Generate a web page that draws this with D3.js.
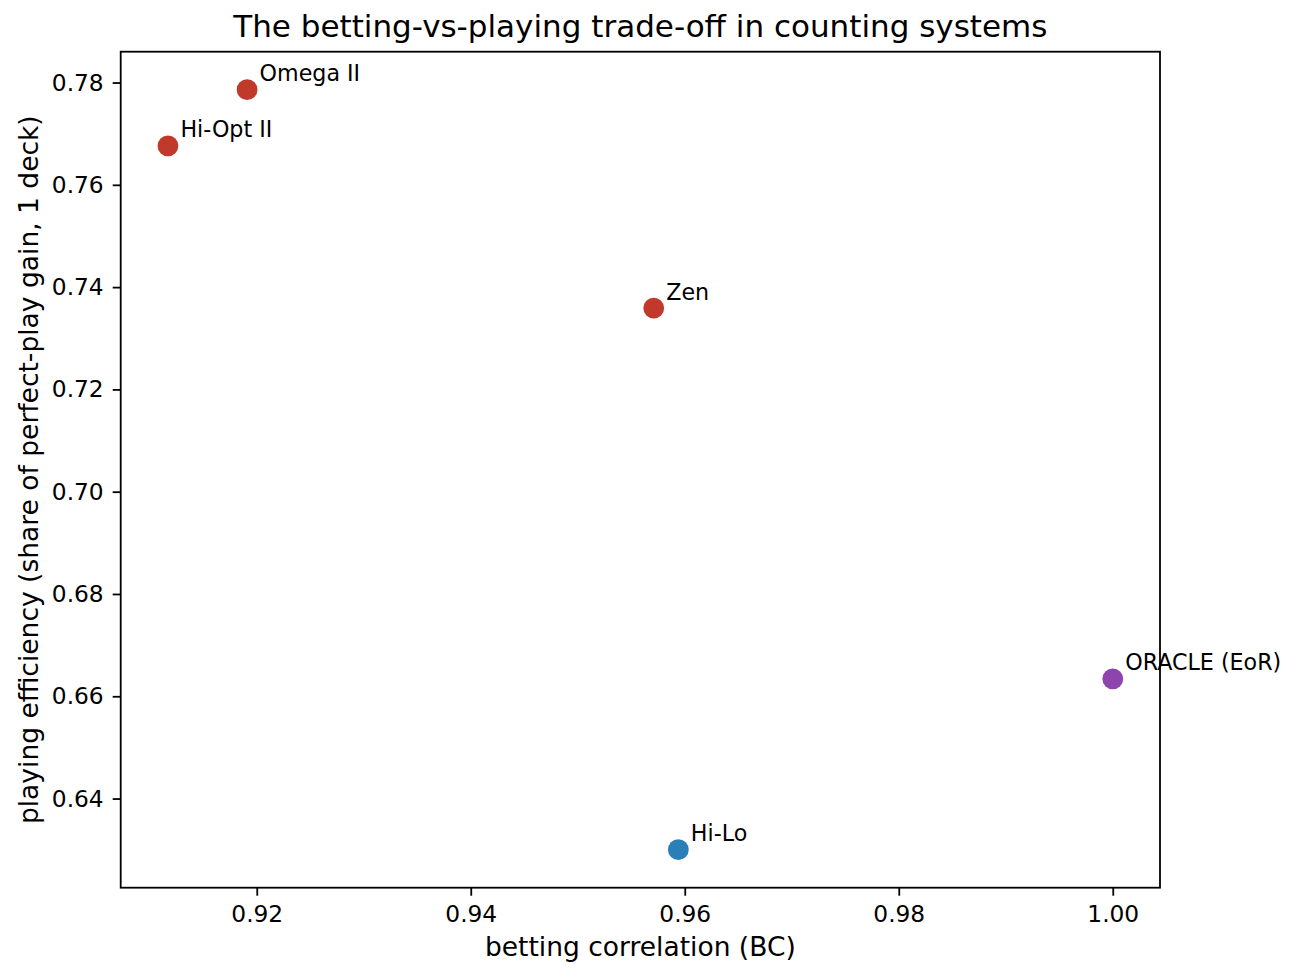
<!DOCTYPE html>
<html lang="en">
<head>
<meta charset="UTF-8">
<title>Betting vs playing trade-off</title>
<script src="https://d3js.org/d3.v7.min.js"></script>
<style>
body { margin: 0; background: #fff; }
svg text { font-family: "DejaVu Sans", sans-serif; fill: #000; }
.axis path, .axis line { stroke: #000; stroke-width: 1.8px; }
.axis text { font-size: 23.3px; }
</style>
</head>
<body>
<svg id="chart" width="1298" height="978"></svg>
<script>
// counting systems: betting correlation vs playing efficiency
var systems = ["Hi-Lo", "Hi-Opt II", "Omega II", "Zen", "ORACLE (EoR)"];
var bc = [0.9594, 0.9117, 0.9191, 0.9571, 1.0000];
var pe = [0.6300, 0.7676, 0.7786, 0.7359, 0.6634];
var kind = ["level 1", "multi-level", "multi-level", "multi-level", "oracle"];

var xTicks = [0.92, 0.94, 0.96, 0.98, 1.00];
var yTicks = [0.64, 0.66, 0.68, 0.70, 0.72, 0.74, 0.76, 0.78];

var box = { left: 120.7, right: 1160, top: 51.7, bottom: 887.7 };

// matplotlib-like 5% margins around the data
function padded(vals) {
  var e = d3.extent(vals), m = (e[1] - e[0]) * 0.05;
  return [e[0] - m, e[1] + m];
}

var x = d3.scaleLinear().domain(padded(bc)).range([box.left, box.right]);
var y = d3.scaleLinear().domain(padded(pe)).range([box.bottom, box.top]);
var color = d3.scaleOrdinal()
  .domain(["level 1", "multi-level", "oracle"])
  .range(["#2a7fb8", "#c0392b", "#8e44ad"]);

var svg = d3.select("#chart");

var pts = systems.map(function(s, i) {
  return { name: s, bc: bc[i], pe: pe[i], kind: kind[i] };
});

svg.selectAll("circle.pt")
  .data(pts)
  .enter().append("circle")
  .attr("class", "pt")
  .attr("cx", function(d) { return x(d.bc); })
  .attr("cy", function(d) { return y(d.pe); })
  .attr("r", 10.4)
  .attr("fill", function(d) { return color(d.kind); });

svg.selectAll("text.lbl")
  .data(pts)
  .enter().append("text")
  .attr("class", "lbl")
  .attr("x", function(d) { return x(d.bc) + 12.5; })
  .attr("y", function(d) { return y(d.pe) - 8.5; })
  .style("font-size", "22.2px")
  .text(function(d) { return d.name; });

// axes
svg.append("g")
  .attr("class", "axis")
  .attr("transform", "translate(0," + box.bottom + ")")
  .call(d3.axisBottom(x).tickValues(xTicks).tickFormat(d3.format(".2f"))
    .tickSize(8).tickPadding(10).tickSizeOuter(0));

svg.append("g")
  .attr("class", "axis")
  .attr("transform", "translate(" + box.left + ",0)")
  .call(d3.axisLeft(y).tickValues(yTicks).tickFormat(d3.format(".2f"))
    .tickSize(8).tickPadding(9).tickSizeOuter(0));

svg.selectAll(".axis .domain").remove();

// frame
svg.append("rect")
  .attr("x", box.left).attr("y", box.top)
  .attr("width", box.right - box.left).attr("height", box.bottom - box.top)
  .attr("fill", "none").attr("stroke", "#000").attr("stroke-width", 1.8);

svg.append("text")
  .attr("x", (box.left + box.right) / 2).attr("y", 37)
  .attr("text-anchor", "middle")
  .style("font-size", "31px")
  .text("The betting-vs-playing trade-off in counting systems");

svg.append("text")
  .attr("x", (box.left + box.right) / 2).attr("y", 956)
  .attr("text-anchor", "middle")
  .style("font-size", "26.5px")
  .text("betting correlation (BC)");

svg.append("text")
  .attr("transform", "translate(38," + (box.top + box.bottom) / 2 + ") rotate(-90)")
  .attr("text-anchor", "middle")
  .style("font-size", "26.5px")
  .text("playing efficiency (share of perfect-play gain, 1 deck)");
</script>
</body>
</html>
